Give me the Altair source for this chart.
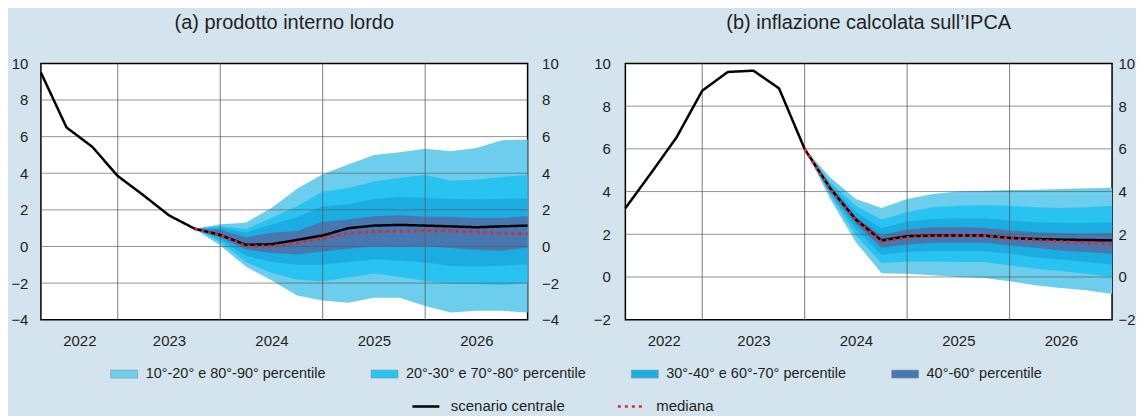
import altair as alt
import pandas as pd

# ---------------- data ----------------
quarter_index = list(range(20))                 # quarterly positions (2022 ... 2026)
year_bounds = [3, 7, 11, 15]                    # start of each year (vertical grid)
year_labels = ["2022", "2023", "2024", "2025", "2026"]
year_label_pos = [1.5, 5, 9, 13, 17]

gdp_ticks = [-4, -2, 0, 2, 4, 6, 8, 10]
hicp_ticks = [-2, 0, 2, 4, 6, 8, 10]

band_names = [
    "10°-20° e 80°-90° percentile",
    "20°-30° e 70°-80° percentile",
    "30°-40° e 60°-70° percentile",
    "40°-60° percentile",
]
line_names = ["scenario centrale", "mediana"]

# (a) prodotto interno lordo
gdp_central = [9.5, 6.5, 5.45, 3.85, 2.8, 1.7, 0.97, 0.63, 0.09, 0.12, 0.36, 0.6,
               1.0, 1.14, 1.18, 1.14, 1.1, 1.05, 1.1, 1.14]
gdp_fan_start = 6
gdp_median = [0.97, 0.62, 0.02, 0.02, 0.2, 0.45, 0.72, 0.81, 0.83, 0.87, 0.85, 0.78, 0.72, 0.7]
gdp_p90 = [0.97, 1.22, 1.3, 2.1, 3.15, 3.95, 4.48, 5.0, 5.15, 5.34, 5.2, 5.38, 5.8, 5.85]
gdp_p80 = [0.97, 1.12, 0.95, 1.55, 2.2, 3.0, 3.2, 3.55, 3.75, 3.9, 3.6, 3.65, 3.8, 3.92]
gdp_p70 = [0.97, 1.02, 0.75, 1.2, 1.6, 2.2, 2.3, 2.6, 2.7, 2.66, 2.6, 2.58, 2.6, 2.62]
gdp_p60 = [0.97, 0.9, 0.5, 0.75, 0.85, 1.35, 1.47, 1.65, 1.7, 1.63, 1.62, 1.55, 1.55, 1.67]
gdp_p40 = [0.97, 0.5, -0.15, -0.35, -0.42, -0.27, -0.12, 0.02, 0.0, 0.02, -0.08, -0.18, -0.24, -0.05]
gdp_p30 = [0.97, 0.4, -0.5, -0.85, -1.0, -1.0, -0.85, -0.7, -0.78, -0.88, -1.06, -1.09, -1.05, -0.97]
gdp_p20 = [0.97, 0.25, -0.85, -1.45, -1.8, -1.9, -1.7, -1.47, -1.65, -1.88, -2.05, -2.05, -2.1, -1.98]
gdp_p10 = [0.97, 0.05, -1.1, -1.85, -2.68, -2.95, -3.07, -2.8, -2.8, -3.25, -3.6, -3.51, -3.51, -3.6]

# (b) inflazione calcolata sull'IPCA
hicp_central = [3.22, 4.86, 6.54, 8.72, 9.6, 9.66, 8.83, 5.99, 4.15, 2.69, 1.71, 1.91,
                1.94, 1.94, 1.94, 1.83, 1.78, 1.75, 1.73, 1.72]
hicp_fan_start = 7
hicp_median = [5.99, 4.1, 2.65, 1.66, 1.86, 1.91, 1.94, 1.93, 1.82, 1.73, 1.66, 1.6, 1.55]
hicp_p90 = [6.0, 4.66, 3.65, 3.23, 3.65, 3.89, 4.0, 4.04, 4.07, 4.09, 4.12, 4.15, 4.17]
hicp_p80 = [6.0, 4.43, 3.34, 2.69, 3.03, 3.26, 3.34, 3.37, 3.34, 3.26, 3.23, 3.26, 3.34]
hicp_p70 = [6.0, 4.31, 3.03, 2.28, 2.6, 2.72, 2.75, 2.75, 2.64, 2.56, 2.53, 2.53, 2.56]
hicp_p60 = [6.0, 4.2, 2.8, 1.94, 2.22, 2.33, 2.33, 2.3, 2.18, 2.1, 2.05, 2.02, 2.05]
hicp_p40 = [6.0, 4.04, 2.49, 1.37, 1.52, 1.6, 1.6, 1.6, 1.48, 1.37, 1.24, 1.17, 1.09]
hicp_p30 = [6.0, 3.92, 2.25, 1.04, 1.17, 1.21, 1.21, 1.21, 1.09, 0.93, 0.82, 0.7, 0.59]
hicp_p20 = [6.0, 3.81, 1.94, 0.65, 0.73, 0.73, 0.7, 0.7, 0.54, 0.39, 0.28, 0.15, 0.0]
hicp_p10 = [6.0, 3.65, 1.63, 0.18, 0.15, 0.08, 0.0, -0.05, -0.2, -0.39, -0.51, -0.62, -0.8]

# ---------------- style ----------------
FONT = "Liberation Sans, Arial, Helvetica, sans-serif"
TXT = "#231f20"
BG = "#d3e4ee"
band_colors = ["#6dcdec", "#29c3f2", "#1badE1", "#4777ae"]
line_colors = ["#000000", "#e4262b"]
GRID = "#5a5a5a"

color_scale = alt.Scale(domain=band_names, range=band_colors)
stroke_scale = alt.Scale(domain=line_names, range=line_colors)
dash_scale = alt.Scale(domain=line_names, range=[[1, 0], [3, 4]])
x_scale = alt.Scale(domain=[quarter_index[0], quarter_index[-1]], nice=False, zero=False)

label_expr = f"'{year_labels[-1]}'"
for b, y in reversed(list(zip(year_bounds, year_labels[:-1]))):
    label_expr = f"(datum.value < {b}) ? '{y}' : ({label_expr})"

x_axis = alt.Axis(values=year_label_pos, labelExpr=label_expr, grid=False, ticks=False,
                  domain=False, labelPadding=14, labelFontSize=15,
                  labelFont=FONT, labelColor=TXT, title=None, labelAngle=0,
                  orient="bottom")

band_legend = alt.Legend(title=None, orient="none", legendX=73, legendY=301,
                         direction="horizontal", columns=4, columnPadding=43,
                         symbolType="M-1.35,-0.4H1.35V0.4H-1.35Z", symbolSize=400,
                         symbolStrokeColor="#7f95a3", symbolStrokeWidth=0.6,
                         labelFontSize=14.5, labelFont=FONT, labelColor=TXT,
                         labelOffset=11, labelLimit=400, padding=0)
line_legend = alt.Legend(title=None, orient="none", legendX=371, legendY=329,
                         direction="horizontal", columns=2, columnPadding=47,
                         symbolType="stroke", symbolSize=729, symbolStrokeWidth=2.6,
                         labelFontSize=15, labelFont=FONT, labelColor=TXT,
                         labelOffset=10, labelLimit=400, padding=0)


def band_frames(start, p10, p20, p30, p40, p60, p70, p80, p90):
    limits = [(p10, p90), (p20, p80), (p30, p70), (p40, p60)]
    frames = []
    for name, (lo, hi) in zip(band_names, limits):
        frames.append(pd.DataFrame({
            "t": [start + i for i in range(len(lo))],
            "lo": lo, "hi": hi, "band": name}))
    return frames


def panel(title, central, fan_start, median, median_start, pcts, ticks,
          show_legend, left_pad, right_pad):
    y_scale = alt.Scale(domain=[ticks[0], ticks[-1]], nice=False, zero=False)
    left_axis = alt.Axis(values=ticks, grid=False, ticks=False, domain=False,
                         labelPadding=left_pad, labelFontSize=15, labelFont=FONT,
                         labelColor=TXT, title=None, orient="left")
    right_axis = alt.Axis(values=ticks, grid=False, ticks=False, domain=False,
                          labelPadding=right_pad, labelFontSize=15, labelFont=FONT,
                          labelColor=TXT, title=None, orient="right", labelAlign="left")
    bleg = band_legend if show_legend else None
    lleg = line_legend if show_legend else None
    X = alt.X("t:Q", scale=x_scale, axis=x_axis)

    layers = []
    for i, df in enumerate(band_frames(fan_start, *pcts)):
        layers.append(
            alt.Chart(df).mark_area(opacity=1, interpolate="linear").encode(
                x=X,
                y=alt.Y("lo:Q", scale=y_scale, axis=left_axis if i == 0 else None),
                y2="hi:Q",
                color=alt.Color("band:N", scale=color_scale, legend=bleg),
            )
        )

    hgrid = alt.Chart(pd.DataFrame({"v": ticks[1:-1]})).mark_rule(
        color=GRID, strokeWidth=1, opacity=0.65).encode(
        y=alt.Y("v:Q", scale=y_scale, axis=None))
    vgrid = alt.Chart(pd.DataFrame({"t": year_bounds})).mark_rule(
        color=GRID, strokeWidth=1, opacity=0.8).encode(x=X)

    central_df = pd.DataFrame({"t": quarter_index, "v": central, "series": line_names[0]})
    median_df = pd.DataFrame({"t": [median_start + i for i in range(len(median))],
                              "v": median, "series": line_names[1]})

    central_line = alt.Chart(central_df).mark_line(strokeWidth=2.5).encode(
        x=X,
        y=alt.Y("v:Q", scale=y_scale, axis=None),
        stroke=alt.Stroke("series:N", scale=stroke_scale, legend=lleg),
        strokeDash=alt.StrokeDash("series:N", scale=dash_scale, legend=lleg),
    )
    median_line = alt.Chart(median_df).mark_line(strokeWidth=3).encode(
        x=X,
        y=alt.Y("v:Q", scale=y_scale, axis=right_axis),
        stroke=alt.Stroke("series:N", scale=stroke_scale, legend=lleg),
        strokeDash=alt.StrokeDash("series:N", scale=dash_scale, legend=lleg),
    )

    return alt.layer(*layers, hgrid, vgrid, central_line, median_line).resolve_axis(
        y="independent").properties(
        width=488, height=257,
        title=alt.TitleParams(text=title, fontSize=20, font=FONT, fontWeight="normal",
                              color=TXT, offset=23, frame="group", anchor="middle"),
    )


left = panel("(a) prodotto interno lordo", gdp_central, gdp_fan_start, gdp_median,
             gdp_fan_start,
             (gdp_p10, gdp_p20, gdp_p30, gdp_p40, gdp_p60, gdp_p70, gdp_p80, gdp_p90),
             gdp_ticks, True, 13, 14)
right = panel("(b) inflazione calcolata sull\u2019IPCA", hicp_central, hicp_fan_start,
              hicp_median, hicp_fan_start,
              (hicp_p10, hicp_p20, hicp_p30, hicp_p40, hicp_p60, hicp_p70, hicp_p80, hicp_p90),
              hicp_ticks, False, 15, 6)

chart = alt.hconcat(left, right, spacing=98, bounds="flush").resolve_scale(
    color="independent", stroke="independent", strokeDash="independent"
).configure(
    background=BG, padding={"left": 2, "top": 4, "right": 0, "bottom": 0}
).configure_view(
    stroke="#000000", strokeWidth=1.5, fill="white"
)

chart.save("out.html", embed_options={"renderer": "svg", "actions": False})
